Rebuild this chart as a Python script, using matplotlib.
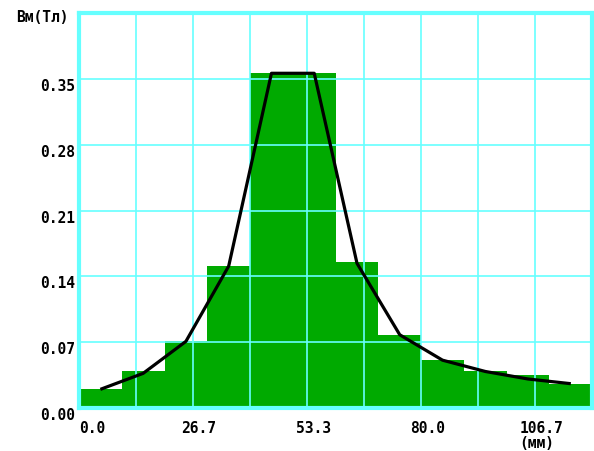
import matplotlib
matplotlib.use("Agg")
import matplotlib.pyplot as plt
import matplotlib.transforms as mtransforms
import numpy as np

# данные: столбцы по 10 мм и кривая по центрам
bar_left = [0, 10, 20, 30, 40, 50, 60, 70, 80, 90, 100, 110]
bar_height = [0.020, 0.039, 0.071, 0.151, 0.356, 0.356, 0.155, 0.078, 0.051, 0.039, 0.035, 0.026]
curve_x = [5, 15, 25, 35, 45, 55, 65, 75, 85, 95, 105, 115]
curve_y = [0.020, 0.037, 0.071, 0.151, 0.356, 0.356, 0.154, 0.078, 0.051, 0.039, 0.031, 0.026]

x_ticks = [0, 13.333, 26.667, 40, 53.333, 66.667, 80, 93.333, 106.667, 120]
x_labels = ["0.0", "", "26.7", "", "53.3", "", "80.0", "", "106.7", ""]
y_ticks = [0, 0.07, 0.14, 0.21, 0.28, 0.35, 0.42]
y_labels = ["0.00", "0.07", "0.14", "0.21", "0.28", "0.35", ""]

cyan = "#66ffff"
green = "#00aa00"
font = {"family": "DejaVu Sans Mono", "weight": "bold", "size": 10.5}

fig = plt.figure(figsize=(5.94, 4.51), dpi=100)
ax = fig.add_axes([0.133, 0.095, 0.864, 0.876])

ax.bar(bar_left, bar_height, width=10, align="edge", color=green, zorder=1)
ax.plot(curve_x, curve_y, color="black", lw=2.3, zorder=3, solid_capstyle="butt")

ax.set_xlim(0, 120)
ax.set_ylim(0, 0.42)
ax.set_xticks(x_ticks)
ax.set_xticklabels(x_labels, fontdict=font)
ax.set_yticks(y_ticks)
ax.set_yticklabels(y_labels, fontdict=font)
ax.tick_params(length=0)
ax.tick_params(axis="y", pad=3)
ax.tick_params(axis="x", pad=9)
ax.grid(True, color=cyan, lw=1.2, zorder=2)
ax.set_axisbelow(False)
for s in ax.spines.values():
    s.set_color(cyan)
    s.set_linewidth(3)
    s.set_zorder(4)

# сдвиг подписей как в оригинале
for i, t in enumerate(ax.get_xticklabels()):
    if i == 0:
        t.set_ha("left")
    else:
        t.set_transform(t.get_transform() + mtransforms.ScaledTranslation(6 / 100, 0, fig.dpi_scale_trans))
for t in ax.get_yticklabels():
    t.set_transform(t.get_transform() + mtransforms.ScaledTranslation(0, -6 / 100, fig.dpi_scale_trans))

fig.text(16 / 594, 1 - 18 / 451, "Вм(Тл)", ha="left", va="center", **font)
fig.text(537 / 594, 1 - 443 / 451, "(мм)", ha="center", va="center", **font)

fig.savefig("out.png", dpi=100)
